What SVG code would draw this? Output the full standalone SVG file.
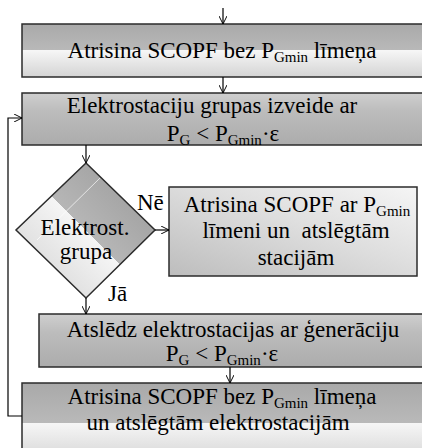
<svg xmlns="http://www.w3.org/2000/svg" width="422" height="448" viewBox="0 0 422 448">
  <defs>
    <!-- two-tone "glass" fill: grey upper half, pale lower half -->
    <linearGradient id="glass" x1="0" y1="0" x2="0" y2="1">
      <stop offset="0" stop-color="#a9a9a9"/>
      <stop offset="0.5" stop-color="#b9b9b9"/>
      <stop offset="0.5" stop-color="#f6f6f6"/>
      <stop offset="1" stop-color="#d4d4d4"/>
    </linearGradient>
    <linearGradient id="glassTall" gradientUnits="userSpaceOnUse" x1="0" y1="383" x2="0" y2="463">
      <stop offset="0" stop-color="#a9a9a9"/>
      <stop offset="0.5" stop-color="#b9b9b9"/>
      <stop offset="0.5" stop-color="#f6f6f6"/>
      <stop offset="1" stop-color="#d4d4d4"/>
    </linearGradient>
    <linearGradient id="greyBox" x1="0" y1="0" x2="0" y2="1">
      <stop offset="0" stop-color="#cfcfcf"/>
      <stop offset="0.35" stop-color="#bcbcbc"/>
      <stop offset="1" stop-color="#acacac"/>
    </linearGradient>
    <linearGradient id="paleBox" x1="0" y1="1" x2="1" y2="0">
      <stop offset="0" stop-color="#bdbdbd"/>
      <stop offset="0.55" stop-color="#dedede"/>
      <stop offset="1" stop-color="#f5f5f5"/>
    </linearGradient>
    <linearGradient id="diamondFill" gradientUnits="userSpaceOnUse" x1="51" y1="264" x2="120" y2="196">
      <stop offset="0" stop-color="#e2e2e2"/>
      <stop offset="0.5" stop-color="#f5f5f5"/>
      <stop offset="0.5" stop-color="#b6b6b6"/>
      <stop offset="1" stop-color="#a6a6a6"/>
    </linearGradient>
    <marker id="arrow" viewBox="0 0 10 10" refX="10" refY="5" markerWidth="8" markerHeight="8" markerUnits="userSpaceOnUse" orient="auto">
      <path d="M0,0 L10,5 L0,10" fill="none" stroke="#000" stroke-width="1.2"/>
    </marker>
    <style>
      .box { stroke: #2b2b2b; stroke-width: 1.5; }
      .lbl { font-family: "Liberation Serif", "Times New Roman", serif; font-size: 23px; fill: #000; text-anchor: middle; }
      .tag { font-family: "Liberation Serif", "Times New Roman", serif; font-size: 23px; fill: #000; }
      .sub { font-size: 15px; }
      .link { fill: none; stroke: #000; stroke-width: 1.2; marker-end: url(#arrow); }
    </style>
  </defs>

  <rect width="422" height="448" fill="#ffffff"/>

  <!-- step 1 -->
  <g id="solve-initial">
    <rect class="box" x="22" y="24" width="410" height="53" fill="url(#glass)"/>
    <text class="lbl" x="222" y="58">Atrisina SCOPF bez P<tspan class="sub" dy="4">Gmin</tspan><tspan dy="-4"> līmeņa</tspan></text>
  </g>

  <!-- step 2 -->
  <g id="form-groups">
    <rect class="box" x="22" y="93" width="410" height="52" fill="url(#greyBox)"/>
    <text class="lbl" x="212" y="113">Elektrostaciju grupas izveide ar</text>
    <text class="lbl" x="223" y="141">P<tspan class="sub" dy="4">G</tspan><tspan dy="-4"> &lt; P</tspan><tspan class="sub" dy="4">Gmin</tspan><tspan dy="-4">·ε</tspan></text>
  </g>

  <!-- decision -->
  <g id="decision">
    <polygon class="box" points="86,163 155,230 86,298 16,230" fill="url(#diamondFill)"/>
    <line x1="37" y1="240" x2="100" y2="178" stroke="#ffffff" stroke-width="0.8" opacity="0.85"/>
    <text class="lbl" x="85" y="235">Elektrost.</text>
    <text class="lbl" x="86" y="259">grupa</text>
  </g>

  <!-- branch "no" -->
  <g id="solve-with-limit">
    <rect class="box" x="169" y="187" width="248" height="89" fill="url(#paleBox)"/>
    <text class="lbl" x="297" y="212">Atrisina SCOPF ar P<tspan class="sub" dy="4">Gmin</tspan></text>
    <text class="lbl" x="296" y="238" xml:space="preserve">līmeni un  atslēgtām</text>
    <text class="lbl" x="296" y="265">stacijām</text>
  </g>

  <!-- branch "yes" -->
  <g id="switch-off">
    <rect class="box" x="39" y="314" width="393" height="53" fill="url(#greyBox)"/>
    <text class="lbl" x="233" y="337">Atslēdz elektrostacijas ar ģenerāciju</text>
    <text class="lbl" x="222" y="361">P<tspan class="sub" dy="4">G</tspan><tspan dy="-4"> &lt; P</tspan><tspan class="sub" dy="4">Gmin</tspan><tspan dy="-4">·ε</tspan></text>
  </g>

  <!-- final solve -->
  <g id="solve-final">
    <rect class="box" x="22" y="383" width="410" height="80" fill="url(#glassTall)"/>
    <text class="lbl" x="222" y="404">Atrisina SCOPF bez P<tspan class="sub" dy="4">Gmin</tspan><tspan dy="-4"> līmeņa</tspan></text>
    <text class="lbl" x="218" y="430">un atslēgtām elektrostacijām</text>
  </g>

  <!-- connectors -->
  <g id="connectors">
    <line class="link" x1="223" y1="8" x2="223" y2="24"/>
    <line class="link" x1="223" y1="77" x2="223" y2="93"/>
    <line class="link" x1="86" y1="145" x2="86" y2="163"/>
    <line class="link" x1="155" y1="230" x2="169" y2="230"/>
    <line class="link" x1="86" y1="298" x2="86" y2="314"/>
    <line class="link" x1="230" y1="367" x2="230" y2="383"/>
    <polyline class="link" points="22,416 8,416 8,118 22,118"/>
    <text class="tag" x="137" y="210">Nē</text>
    <text class="tag" x="108" y="301">Jā</text>
  </g>
</svg>
